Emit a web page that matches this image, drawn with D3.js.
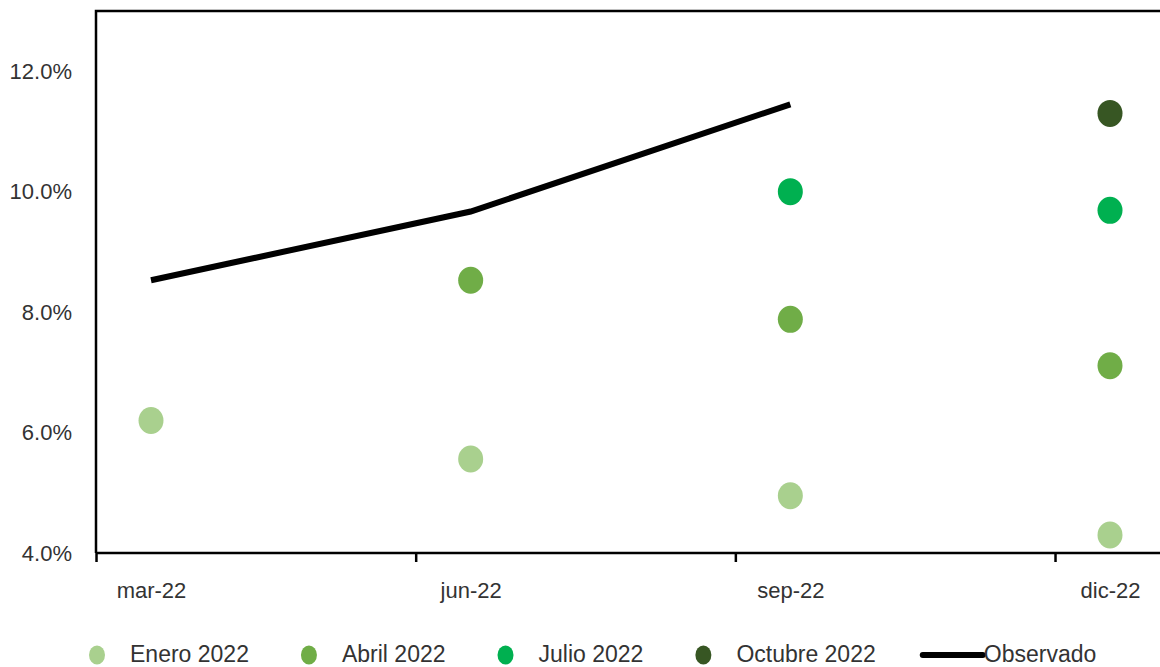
<!DOCTYPE html>
<html>
<head>
<meta charset="utf-8">
<script src="https://cdn.jsdelivr.net/npm/d3@7"></script>
<style>
  body { margin: 0; background: #fff; }
  svg { display: block; font-family: "Liberation Sans", Arial, sans-serif; }
  .axis text { fill: #333; font-size: 22px; }
  .legend text { fill: #333; font-size: 23px; }
</style>
</head>
<body>
<div id="chart-area"></div>
<script>
// Data
const periods   = ["mar-22", "jun-22", "sep-22", "dic-22"];
const yTicks    = [0.04, 0.06, 0.08, 0.10, 0.12];
const observado = [0.0853, 0.0967, 0.1145];
const enero     = [0.0620, 0.0556, 0.0495, 0.0430];
const abril     = [null, 0.0853, 0.0788, 0.0711];
const julio     = [null, null, 0.1000, 0.0969];
const octubre   = [null, null, null, 0.1130];

const seriesNames  = ["Enero 2022", "Abril 2022", "Julio 2022", "Octubre 2022"];
const seriesColors = ["#a9d08e", "#70ad47", "#00b050", "#375623"];
const seriesVals   = [enero, abril, julio, octubre];

const W = 1160, H = 667;
const plot = { left: 96, top: 11, bottom: 553 };

const svg = d3.select("#chart-area")
    .append("svg")
    .attr("width", W)
    .attr("height", H);

/* Scales */
const x = d3.scaleLinear().domain([0, 3]).range([151, 1110]);
const y = d3.scaleLinear().domain([0.04, 0.13]).range([plot.bottom, plot.top]);
const tickShift = 0.172; // Excel date axis: tick marks sit before the points

/* Frame (top and left; right edge is outside the window) */
svg.append("path")
    .attr("d", `M${plot.left},${plot.bottom} V${plot.top} H${W + 20}`)
    .attr("fill", "none")
    .attr("stroke", "#000")
    .attr("stroke-width", 2.5);

/* Y axis */
const yAxis = svg.append("g")
    .attr("class", "axis")
    .attr("transform", `translate(${plot.left},0)`)
    .call(d3.axisLeft(y).tickValues(yTicks).tickFormat(d3.format(".1%")).tickSize(0).tickPadding(24));
yAxis.select(".domain").remove();

/* X axis: tick marks at the boundaries */
const xTickAxis = svg.append("g")
    .attr("class", "axis")
    .attr("transform", `translate(0,${plot.bottom})`)
    .call(d3.axisBottom(x)
        .tickValues(d3.range(periods.length).map(i => i - tickShift))
        .tickFormat("")
        .tickSize(9)
        .tickSizeOuter(0));
xTickAxis.select(".domain")
    .attr("d", `M${plot.left},0 H${W + 20}`)
    .attr("stroke-width", 2.5);
xTickAxis.selectAll(".tick line").attr("stroke-width", 2.5);

/* X axis: labels under the points */
const xLabelAxis = svg.append("g")
    .attr("class", "axis")
    .attr("transform", `translate(0,${plot.bottom})`)
    .call(d3.axisBottom(x)
        .tickValues(d3.range(periods.length))
        .tickFormat(i => periods[i])
        .tickSize(0)
        .tickPadding(29));
xLabelAxis.select(".domain").remove();

/* Observado line */
const line = d3.line()
    .x((d, i) => x(i))
    .y(d => y(d));

svg.append("path")
    .datum(observado)
    .attr("d", line)
    .attr("fill", "none")
    .attr("stroke", "#000")
    .attr("stroke-width", 6);

/* Forecast dots */
seriesVals.forEach((vals, s) => {
    svg.append("g")
        .selectAll("ellipse")
        .data(vals.map((v, i) => ({ v, i })).filter(d => d.v !== null))
        .join("ellipse")
        .attr("cx", d => x(d.i))
        .attr("cy", d => y(d.v))
        .attr("rx", 12.5)
        .attr("ry", 13.5)
        .attr("fill", seriesColors[s]);
});

/* Legend */
const legY = 654;
const legend = svg.append("g").attr("class", "legend");
let cx = 97;
seriesNames.forEach((name, s) => {
    legend.append("ellipse")
        .attr("cx", cx)
        .attr("cy", legY + 1)
        .attr("rx", 8)
        .attr("ry", 9.5)
        .attr("fill", seriesColors[s]);
    const t = legend.append("text")
        .attr("x", cx + 33)
        .attr("y", legY)
        .attr("dy", "0.33em")
        .text(name);
    const len = t.node().getComputedTextLength();
    cx = cx + 33 + len + (s < seriesNames.length - 1 ? 60 : 47);
});
legend.append("line")
    .attr("x1", cx)
    .attr("x2", cx + 60)
    .attr("y1", legY + 1)
    .attr("y2", legY + 1)
    .attr("stroke", "#000")
    .attr("stroke-width", 6)
    .attr("stroke-linecap", "round");
legend.append("text")
    .attr("x", cx + 61)
    .attr("y", legY)
    .attr("dy", "0.33em")
    .text("Observado");
</script>
</body>
</html>
